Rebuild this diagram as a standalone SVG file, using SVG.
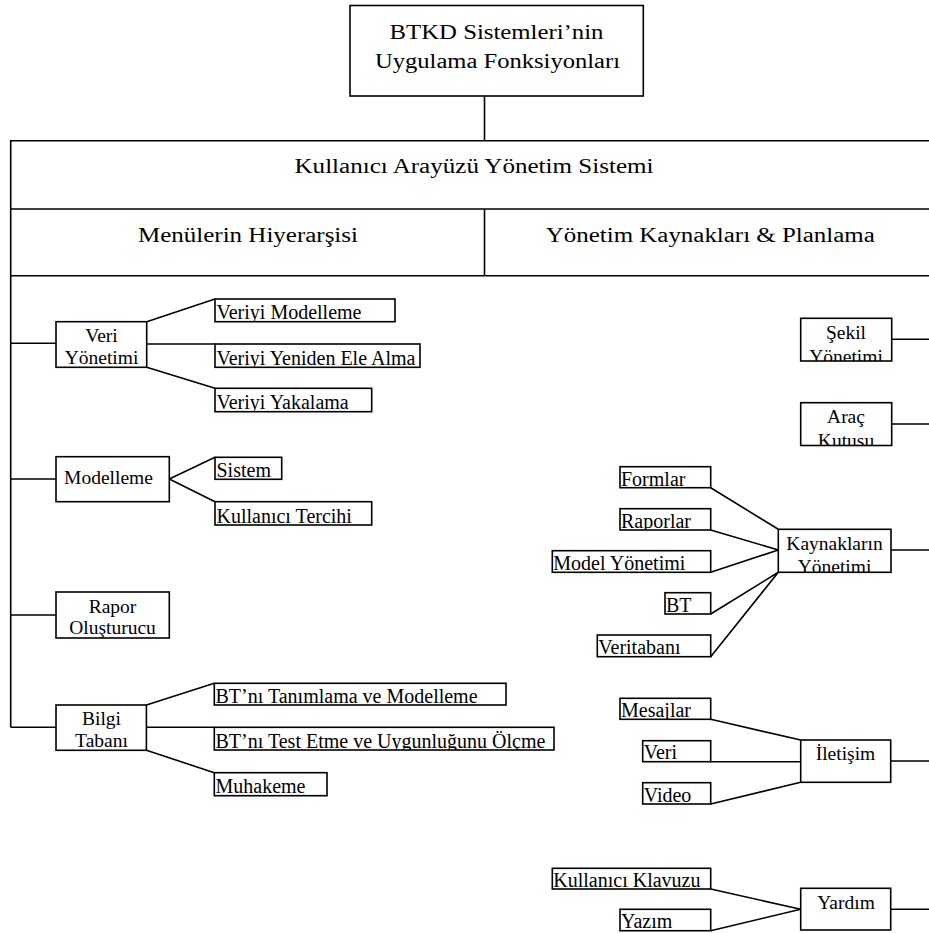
<svg xmlns="http://www.w3.org/2000/svg" width="929" height="933" viewBox="0 0 929 933" font-family="'Liberation Serif', 'Times New Roman', Times, 'DejaVu Serif', serif">
<style>
  .b { fill: none; stroke: #000; stroke-width: 1.6; }
  .c path { fill: none; stroke: #000; stroke-width: 1.6; }
  text { font-family: 'Liberation Serif', 'Times New Roman', Times, 'DejaVu Serif', serif; fill: #000; }
  .hd text { font-size: 20px; text-anchor: middle; }
  .nd text { font-size: 19.5px; text-anchor: middle; }
  .lf text { font-size: 20px; }
</style>
<rect width="929" height="933" fill="#fff"/>

<g id="connectors" class="c">
  <path d="M484.5 96 V140.7"/>
  <path d="M10.7 275.7 V727.3"/>
  <path d="M10.7 343.3 H56 M10.7 479 H56 M10.7 615 H56 M10.7 727.3 H56"/>
  <path d="M146.7 321.7 L215 299 M146.7 344 H215 M146.7 367.3 L215 388.3"/>
  <path d="M169.3 479 L215 457.3 M169.3 479 L215 501.7"/>
  <path d="M146.4 705 L214.3 683.3 M146.4 727.3 H214.3 M146.4 750.3 L214.3 772.7"/>
  <path d="M891.7 339.3 H929 M891.7 424 H929 M891 550 H929 M890.7 761 H929 M890.7 909.3 H929"/>
  <path d="M710.7 487.7 L778.3 529.3 M710.7 530 L778.3 550 M710.7 572.3 L778.3 550 M710.7 614 L778.3 572.3 M710.7 656.7 L778.3 572.3"/>
  <path d="M710.7 719.3 L800.7 740 M710.7 761.7 H800.7 M710.7 804 L800.7 782.3"/>
  <path d="M710.7 889 L800.7 909.3 M710.7 930.7 L800.7 909.3"/>
</g>

<g id="root" class="hd">
  <rect class="b" x="350" y="5.5" width="293.3" height="90.5"/>
  <text x="496.5" y="39.3" textLength="214" lengthAdjust="spacingAndGlyphs">BTKD Sistemleri’nin</text>
  <text x="497.5" y="68.3" textLength="245" lengthAdjust="spacingAndGlyphs">Uygulama Fonksiyonları</text>
</g>

<g id="ui-system" class="hd">
  <path class="b" d="M929 140.7 H10.7 V275.7 H929 M10.7 209 H929"/>
  <text x="474" y="173.3" textLength="359" lengthAdjust="spacingAndGlyphs">Kullanıcı Arayüzü Yönetim Sistemi</text>
</g>
<g id="menu-hierarchy" class="hd">
  <path class="b" d="M484.5 209 V275.7"/>
  <text x="248" y="241.7" textLength="220" lengthAdjust="spacingAndGlyphs">Menülerin Hiyerarşisi</text>
</g>
<g id="resource-planning" class="hd">
  <text x="710.3" y="241.7" textLength="329" lengthAdjust="spacingAndGlyphs">Yönetim Kaynakları &amp; Planlama</text>
</g>

<g id="veri-yonetimi" class="nd">
  <rect class="b" x="56" y="321.7" width="90.7" height="45.6"/>
  <text x="101.5" y="342.3">Veri</text>
  <text x="101.5" y="364">Yönetimi</text>
</g>
<g id="modelleme" class="nd">
  <rect class="b" x="56" y="456.7" width="113.3" height="45"/>
  <text x="108.5" y="484">Modelleme</text>
</g>
<g id="rapor-olusturucu" class="nd">
  <rect class="b" x="56" y="592" width="113.3" height="46"/>
  <text x="112.5" y="612.5">Rapor</text>
  <text x="112.5" y="633.5">Oluşturucu</text>
</g>
<g id="bilgi-tabani" class="nd">
  <rect class="b" x="56" y="705" width="90.4" height="45.3"/>
  <text x="101.5" y="725">Bilgi</text>
  <text x="101.5" y="746.7">Tabanı</text>
</g>

<g id="sekil-yonetimi" class="nd">
  <rect class="b" x="800.7" y="318.3" width="91" height="42.7"/>
  <svg x="800.7" y="318.3" width="91" height="42.7" viewBox="800.7 318.3 91 42.7">
    <text x="846" y="339">Şekil</text>
    <text x="846" y="362.5">Yönetimi</text>
  </svg>
</g>
<g id="arac-kutusu" class="nd">
  <rect class="b" x="800.7" y="402.7" width="91" height="42.8"/>
  <svg x="800.7" y="402.7" width="91" height="42.8" viewBox="800.7 402.7 91 42.8">
    <text x="846" y="423.3">Araç</text>
    <text x="846" y="446.5">Kutusu</text>
  </svg>
</g>
<g id="kaynaklarin-yonetimi" class="nd">
  <rect class="b" x="778.3" y="529.3" width="112.7" height="43"/>
  <svg x="778.3" y="529.3" width="112.7" height="43" viewBox="778.3 529.3 112.7 43">
    <text x="834.5" y="550">Kaynakların</text>
    <text x="834.5" y="573">Yönetimi</text>
  </svg>
</g>
<g id="iletisim" class="nd">
  <rect class="b" x="800.7" y="740" width="90" height="42.3"/>
  <text x="845.5" y="760">İletişim</text>
</g>
<g id="yardim" class="nd">
  <rect class="b" x="800.7" y="888.3" width="90" height="41.7"/>
  <text x="846" y="908.5">Yardım</text>
</g>

<g id="veriyi-modelleme" class="lf">
  <rect class="b" x="215" y="299" width="180" height="22.7"/>
  <svg x="215" y="299" width="180" height="22.7" viewBox="215 299 180 22.7"><text x="216.5" y="319.4">Veriyi Modelleme</text></svg>
</g>
<g id="veriyi-yeniden" class="lf">
  <rect class="b" x="215" y="344" width="205" height="23.3"/>
  <svg x="215" y="344" width="205" height="23.3" viewBox="215 344 205 23.3"><text x="216.5" y="365">Veriyi Yeniden Ele Alma</text></svg>
</g>
<g id="veriyi-yakalama" class="lf">
  <rect class="b" x="215" y="388.3" width="156.7" height="23.4"/>
  <svg x="215" y="388.3" width="156.7" height="23.4" viewBox="215 388.3 156.7 23.4"><text x="216.5" y="409.4">Veriyi Yakalama</text></svg>
</g>
<g id="sistem" class="lf">
  <rect class="b" x="215" y="457.3" width="66.7" height="22"/>
  <svg x="215" y="457.3" width="66.7" height="22" viewBox="215 457.3 66.7 22"><text x="216.5" y="477">Sistem</text></svg>
</g>
<g id="kullanici-tercihi" class="lf">
  <rect class="b" x="215" y="501.7" width="156.7" height="23.3"/>
  <svg x="215" y="501.7" width="156.7" height="23.3" viewBox="215 501.7 156.7 23.3"><text x="216.5" y="522.7">Kullanıcı Tercihi</text></svg>
</g>
<g id="bt-tanimlama" class="lf">
  <rect class="b" x="214.3" y="683.3" width="291.7" height="21.7"/>
  <svg x="214.3" y="683.3" width="291.7" height="21.7" viewBox="214.3 683.3 291.7 21.7"><text x="215.5" y="702.7">BT’nı Tanımlama ve Modelleme</text></svg>
</g>
<g id="bt-test" class="lf">
  <rect class="b" x="214.3" y="727.3" width="339.7" height="22.7"/>
  <svg x="214.3" y="727.3" width="339.7" height="22.7" viewBox="214.3 727.3 339.7 22.7"><text x="215.5" y="747.7">BT’nı Test Etme ve Uygunluğunu Ölçme</text></svg>
</g>
<g id="muhakeme" class="lf">
  <rect class="b" x="214.3" y="772.7" width="112.7" height="23"/>
  <svg x="214.3" y="772.7" width="112.7" height="23" viewBox="214.3 772.7 112.7 23"><text x="215.5" y="793.4">Muhakeme</text></svg>
</g>

<g id="formlar" class="lf">
  <rect class="b" x="620" y="466.7" width="90.7" height="21"/>
  <svg x="620" y="466.7" width="90.7" height="21" viewBox="620 466.7 90.7 21"><text x="621" y="485.5">Formlar</text></svg>
</g>
<g id="raporlar" class="lf">
  <rect class="b" x="620" y="508.7" width="90.7" height="21.3"/>
  <svg x="620" y="508.7" width="90.7" height="21.3" viewBox="620 508.7 90.7 21.3"><text x="621" y="527.7">Raporlar</text></svg>
</g>
<g id="model-yonetimi" class="lf">
  <rect class="b" x="552.3" y="550.7" width="158.4" height="21.6"/>
  <svg x="552.3" y="550.7" width="158.4" height="21.6" viewBox="552.3 550.7 158.4 21.6"><text x="553.3" y="570">Model Yönetimi</text></svg>
</g>
<g id="bt" class="lf">
  <rect class="b" x="665" y="592.7" width="45.7" height="21.3"/>
  <svg x="665" y="592.7" width="45.7" height="21.3" viewBox="665 592.7 45.7 21.3"><text x="666" y="611.7">BT</text></svg>
</g>
<g id="veritabani" class="lf">
  <rect class="b" x="597.3" y="635" width="113.4" height="21.7"/>
  <svg x="597.3" y="635" width="113.4" height="21.7" viewBox="597.3 635 113.4 21.7"><text x="598.3" y="654.4">Veritabanı</text></svg>
</g>
<g id="mesajlar" class="lf">
  <rect class="b" x="620" y="698.3" width="90.7" height="21"/>
  <svg x="620" y="698.3" width="90.7" height="21" viewBox="620 698.3 90.7 21"><text x="621" y="717">Mesajlar</text></svg>
</g>
<g id="veri" class="lf">
  <rect class="b" x="642.7" y="740.7" width="68" height="21"/>
  <svg x="642.7" y="740.7" width="68" height="21" viewBox="642.7 740.7 68 21"><text x="643.7" y="759.4">Veri</text></svg>
</g>
<g id="video" class="lf">
  <rect class="b" x="642.7" y="782.7" width="68" height="21.3"/>
  <svg x="642.7" y="782.7" width="68" height="21.3" viewBox="642.7 782.7 68 21.3"><text x="643.7" y="801.7">Video</text></svg>
</g>
<g id="kullanici-klavuzu" class="lf">
  <rect class="b" x="552.3" y="868.3" width="158.4" height="20.7"/>
  <svg x="552.3" y="868.3" width="158.4" height="20.7" viewBox="552.3 868.3 158.4 20.7"><text x="553.3" y="886.7">Kullanıcı Klavuzu</text></svg>
</g>
<g id="yazim" class="lf">
  <rect class="b" x="620" y="909.3" width="90.7" height="21.4"/>
  <svg x="620" y="909.3" width="90.7" height="21.4" viewBox="620 909.3 90.7 21.4"><text x="621" y="928.4">Yazım</text></svg>
</g>
</svg>
